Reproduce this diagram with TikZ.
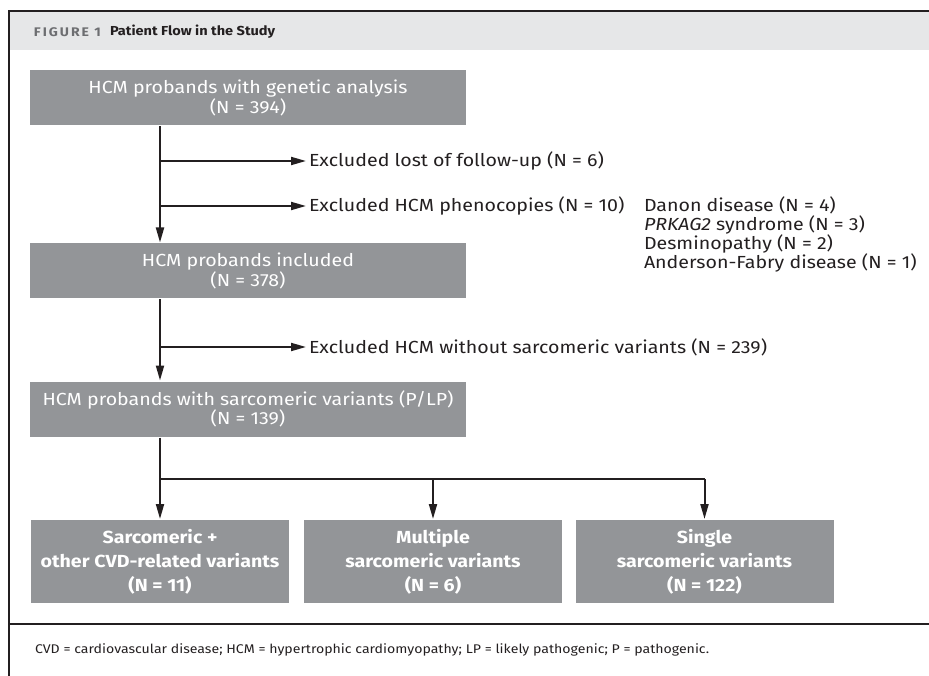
\documentclass[tikz,border=0pt]{standalone}
\usepackage{fontspec}
\setmainfont{Fira Sans}[FakeStretch=1.12]
\newfontfamily\spacedfont{Fira Sans}[LetterSpace=16, FakeStretch=1.12]
\usetikzlibrary{arrows.meta}
\definecolor{boxgray}{HTML}{939598}
\definecolor{bandgray}{HTML}{E6E7E8}
\definecolor{inkdark}{HTML}{231F20}
\definecolor{labelgray}{HTML}{6D6E71}
\tikzset{>={Triangle[length=15pt,width=8pt]}}
\tikzset{flowbox/.style={fill=boxgray, text=white, inner sep=0pt, align=center,
    minimum width=436pt, minimum height=55pt, font=\fontsize{17.5}{17}\selectfont}}
\tikzset{endbox/.style={flowbox, minimum width=258pt, minimum height=83pt,
    font=\bfseries\fontsize{17.5}{24}\selectfont}}
\tikzset{exclude/.style={anchor=west, text=inkdark, inner sep=2pt,
    font=\fontsize{17.5}{19}\selectfont}}

\begin{document}
\begin{tikzpicture}[x=1pt, y=-1pt, color=inkdark, line width=2pt]
\useasboundingbox (0,0) rectangle (929,676);

\def \trunk {160}

% frame, heading band and footer rule
\fill[bandgray] (9,11) rectangle (929,50);
\draw[line width=1.5pt] (9,676) -- (9,11) -- (929,11);
\draw[line width=1.5pt] (9,624) -- (929,624);
\node[anchor=west, inner sep=0pt, text=labelgray, font=\spacedfont\bfseries\fontsize{12.5}{14}\selectfont]
  (figlabel) at (33,32) {FIGURE 1};
\node[anchor=west, inner sep=0pt, font=\bfseries\fontsize{13}{15}\selectfont]
  (title) at (109,32) {Patient Flow in the Study};

% main column
\node[flowbox] (genetic) at (248,98) {HCM probands with genetic analysis\\(N = 394)};
\node[flowbox] (included) at (248,271) {HCM probands included\\(N = 378)};
\node[flowbox] (sarcomeric) at (248,409) {HCM probands with sarcomeric variants (P/LP)\\(N = 139)};

% exclusions
\coordinate (listx) at (641,0);
\node[exclude] (lost) at (306,161) {Excluded lost of follow-up (N = 6)};
\node[exclude] (pheno) at (306,206) {Excluded HCM phenocopies (N = 10)};
\node[exclude, anchor=north west, align=left] (causes) at (pheno.north -| listx)
  {Danon disease (N = 4)\\\textit{PRKAG2} syndrome (N = 3)\\Desminopathy (N = 2)\\Anderson-Fabry disease (N = 1)};
\node[exclude] (nosarc) at (306,347) {Excluded HCM without sarcomeric variants (N = 239)};

% final groups
\node[endbox] (mixed) at (160,561.5) {Sarcomeric +\\other CVD-related variants\\(N = 11)};
\node[endbox] (multiple) at (433,561.5) {Multiple\\sarcomeric variants\\(N = 6)};
\node[endbox] (single) at (704.5,561.5) {Single\\sarcomeric variants\\(N = 122)};

\node[anchor=west, inner sep=0pt, font=\fontsize{12.6}{15}\selectfont] (abbr) at (34,650)
  {CVD = cardiovascular disease; HCM = hypertrophic cardiomyopathy; LP = likely pathogenic; P = pathogenic.};

% connectors
\coordinate (b1) at (\trunk,161);
\coordinate (b2) at (\trunk,206);
\coordinate (b3) at (\trunk,347);
\coordinate (split) at (\trunk,479);

\draw[->] (genetic.south -| b1) -- (included.north -| b1);
\draw[->] (included.south -| b1) -- (sarcomeric.north -| b1);
\draw[->] (b1) -- (lost.west);
\draw[->] (b2) -- (pheno.west);
\draw[->] (b3) -- (nosarc.west);

\draw[->] (sarcomeric.south -| split) -- (mixed.north);
\draw (split) -- (split -| single.north);
\draw[->] (split -| multiple.north) -- (multiple.north);
\draw[->] (split -| single.north) -- (single.north);

\end{tikzpicture}
\end{document}
